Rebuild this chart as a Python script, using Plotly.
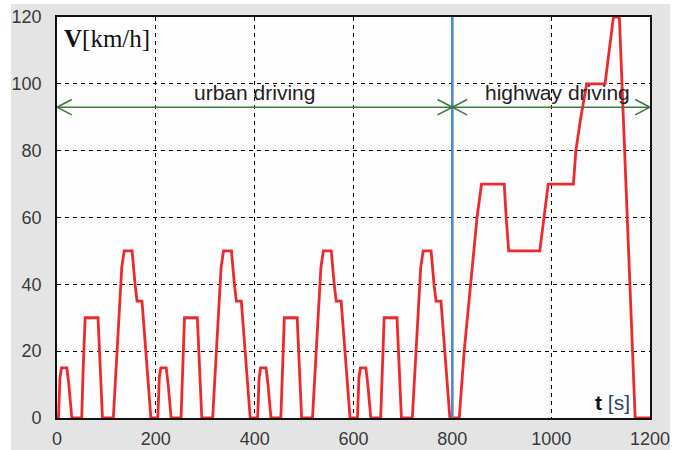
import plotly.graph_objects as go

# ---- data ----
t_urban = [0, 3, 6, 9, 20, 24, 30, 50, 53, 57, 83, 87, 92, 114, 118, 122, 127, 131, 136, 152, 158, 162, 172, 177, 183, 190,
           204, 207, 210, 221, 225, 231, 251, 254, 258, 284, 288, 293, 315, 319, 323, 328, 332, 337, 353, 359, 363, 373, 378, 384, 391,
           406, 409, 412, 423, 427, 433, 453, 456, 460, 486, 490, 495, 517, 521, 525, 530, 534, 539, 555, 561, 565, 575, 580, 586, 593,
           608, 611, 614, 625, 629, 635, 655, 658, 662, 688, 692, 697, 719, 723, 727, 732, 736, 741, 757, 763, 767, 777, 782, 788, 795]
v_urban = [0, 0, 12, 15, 15, 10, 0, 0, 15, 30, 30, 16, 0, 0, 10, 21, 33, 45, 50, 50, 40, 35, 35, 25, 15, 0,
           0, 12, 15, 15, 10, 0, 0, 15, 30, 30, 16, 0, 0, 10, 21, 33, 45, 50, 50, 40, 35, 35, 25, 15, 0,
           0, 12, 15, 15, 10, 0, 0, 15, 30, 30, 16, 0, 0, 10, 21, 33, 45, 50, 50, 40, 35, 35, 25, 15, 0,
           0, 12, 15, 15, 10, 0, 0, 15, 30, 30, 16, 0, 0, 10, 21, 33, 45, 50, 50, 40, 35, 35, 25, 15, 0]
t_highway = [800, 814, 824, 837, 850, 859, 905, 909, 914, 977, 985, 994, 1045, 1050, 1060, 1072, 1109, 1118, 1126, 1138, 1170, 1200]
v_highway = [0, 0, 20, 40, 60, 70, 70, 60, 50, 50, 60, 70, 70, 80, 90, 100, 100, 110, 120, 120, 0, 0]

x_ticks = [0, 200, 400, 600, 800, 1000, 1200]
y_ticks = [0, 20, 40, 60, 80, 100, 120]
t_split = 800
arrow_level = 93

t_all = t_urban + t_highway
v_all = v_urban + v_highway

fig = go.Figure()
fig.add_trace(go.Scatter(x=t_all, y=v_all, mode="lines",
                         line=dict(color="#ec2a2e", width=2.8),
                         cliponaxis=False, showlegend=False, hoverinfo="skip"))
fig.add_trace(go.Scatter(x=[t_split, t_split], y=[0, 120], mode="lines",
                         line=dict(color="#4a8ad4", width=2.6),
                         cliponaxis=False, showlegend=False, hoverinfo="skip"))

green = "#3d7a3d"
shapes = []
# white strips around the gray frame
shapes.append(dict(type="rect", xref="paper", yref="paper", x0=1.0337, x1=1.2, y0=-0.2, y1=1.2,
                   fillcolor="white", line=dict(width=0), layer="above"))
shapes.append(dict(type="rect", xref="paper", yref="paper", x0=-0.2, x1=-0.0776, y0=-0.2, y1=1.2,
                   fillcolor="white", line=dict(width=0), layer="above"))
shapes.append(dict(type="rect", xref="paper", yref="paper", x0=-0.2, x1=1.2, y0=1.0324, y1=1.2,
                   fillcolor="white", line=dict(width=0), layer="above"))
# double arrows
for a, b in [(0, t_split), (t_split, 1200)]:
    shapes.append(dict(type="line", xref="x", yref="y", x0=a, x1=b, y0=arrow_level, y1=arrow_level,
                       line=dict(color=green, width=1.6)))
    for tip, d in [(a, 1), (b, -1)]:
        for s in (1, -1):
            shapes.append(dict(type="line", xref="x", yref="y", x0=tip, y0=arrow_level,
                               x1=tip + d * 30, y1=arrow_level + s * 2.3,
                               line=dict(color=green, width=1.6)))
fig.update_layout(shapes=shapes)

fig.add_annotation(x=400, y=arrow_level, text="urban driving", showarrow=False,
                   yanchor="bottom", yshift=1, xanchor="center",
                   font=dict(family="Arial, Liberation Sans", size=21, color="#222222"))
fig.add_annotation(x=1013, y=arrow_level, text="highway driving", showarrow=False,
                   yanchor="bottom", yshift=1, xanchor="center",
                   font=dict(family="Arial, Liberation Sans", size=21, color="#222222"))
fig.add_annotation(xref="paper", yref="paper", x=0.008, y=0.985, xanchor="left", yanchor="top",
                   text="<b>V</b>[km/h]", showarrow=False,
                   font=dict(family="Liberation Serif, Times New Roman", size=25, color="#111111"))
fig.add_annotation(xref="paper", yref="paper", x=0.97, y=0.005, xanchor="right", yanchor="bottom",
                   text="<b>t</b> <span style='color:#2c4866'>[s]</span>", showarrow=False,
                   font=dict(family="Arial, Liberation Sans", size=21, color="#111111"))

grid = dict(showgrid=True, gridcolor="black", gridwidth=1.4, griddash="4px,4px",
            showline=True, linecolor="#111111", linewidth=1.6, mirror=True, zeroline=False,
            automargin=False, ticks="",
            tickfont=dict(family="Arial, Liberation Sans", size=18, color="#3a3a3a"))
fig.update_xaxes(range=[0, 1200], tickvals=x_ticks, ticklabelstandoff=4, **grid)
fig.update_yaxes(range=[0, 120], tickvals=y_ticks, ticklabelstandoff=10, **grid)

fig.update_layout(width=683, height=450, margin=dict(l=57, r=33, t=17, b=32, autoexpand=False),
                  paper_bgcolor="#e4e4e4", plot_bgcolor="#fdfdfd")
fig.write_html("out.html")
